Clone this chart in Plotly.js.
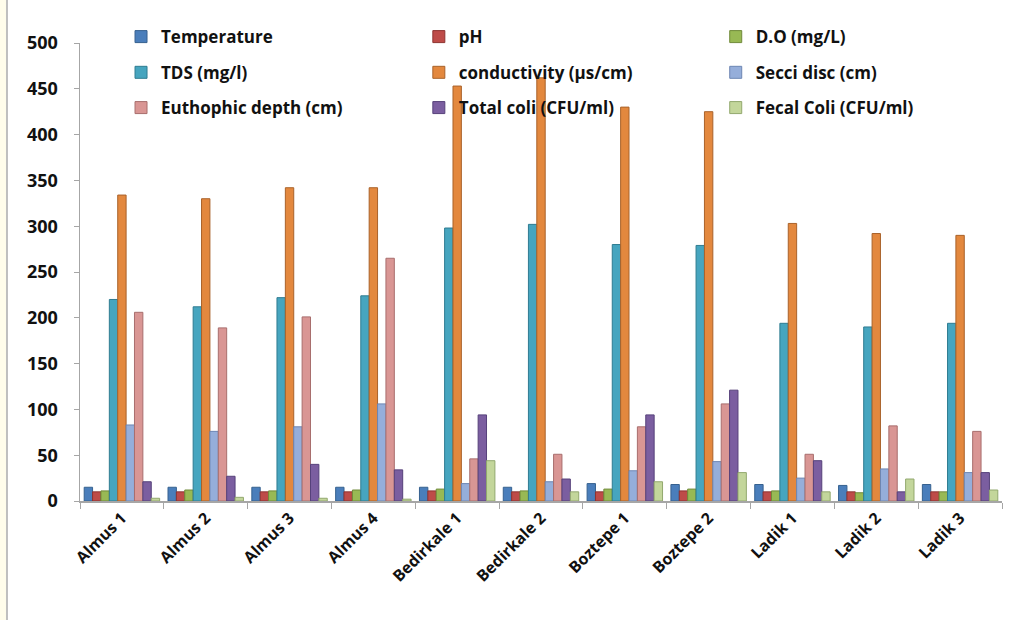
<!DOCTYPE html>
<html>
<head>
<meta charset="utf-8">
<script src="https://cdn.plot.ly/plotly-3.0.1.min.js"></script>
<style>
  html, body { margin: 0; padding: 0; background: #ffffff; }
  #chart { width: 1015px; height: 620px; }
</style>
</head>
<body>
<div id="chart"></div>
<script>
// Sampling stations
const stations = ["Almus 1", "Almus 2", "Almus 3", "Almus 4", "Bedirkale 1", "Bedirkale 2",
                  "Boztepe 1", "Boztepe 2", "Ladik 1", "Ladik 2", "Ladik 3"];

// Measured parameters per station
const temperature  = [15, 15, 15, 15, 15, 15, 19, 18, 18, 17, 18];
const ph           = [10, 10, 10, 10, 11, 10, 10, 11, 10, 10, 10];
const dissolvedO2  = [11, 12, 11, 12, 13, 11, 13, 13, 11, 9, 10];
const tds          = [220, 212, 222, 224, 298, 302, 280, 279, 194, 190, 194];
const conductivity = [334, 330, 342, 342, 453, 462, 430, 425, 303, 292, 290];
const secchiDisc   = [83, 76, 81, 106, 19, 21, 33, 43, 25, 35, 31];
const euphoticDepth= [206, 189, 201, 265, 46, 51, 81, 106, 51, 82, 76];
const totalColi    = [21, 27, 40, 34, 94, 24, 94, 121, 44, 10, 31];
const fecalColi    = [3, 4, 3, 2, 44, 10, 21, 31, 10, 24, 12];

const seriesNames = ["Temperature", "pH", "D.O (mg/L)", "TDS (mg/l)", "conductivity (µs/cm)",
                     "Secci disc (cm)", "Euthophic depth (cm)", "Total coli (CFU/ml)", "Fecal Coli (CFU/ml)"];
const seriesValues = [temperature, ph, dissolvedO2, tds, conductivity,
                      secchiDisc, euphoticDepth, totalColi, fecalColi];
const seriesColors = ["#4A7EBB", "#BE4B48", "#98B954", "#46A5BF", "#E3883E",
                      "#95AEDA", "#D99694", "#7B5EA0", "#C3D69B"];
const edgeColors   = ["#36618F", "#8E3331", "#708A3A", "#2F7C91", "#A9622A",
                      "#6D86B3", "#A86E6D", "#56417A", "#92A86E"];

// Legend grid: 3 columns x 3 rows, one legend box per series
const legendCols = [0.0445, 0.3675, 0.6895];
const legendRows = [1.013, 0.935, 0.858];

const font = "'Open Sans', Lato, 'DejaVu Sans', sans-serif";

const traces = seriesNames.map((name, i) => ({
  type: "bar",
  name: name,
  x: stations,
  y: seriesValues[i],
  legend: i === 0 ? "legend" : "legend" + (i + 1),
  marker: { color: seriesColors[i], line: { color: edgeColors[i], width: 1 } },
  hoverinfo: "x+y+name"
}));

const layout = {
  width: 1015,
  height: 620,
  margin: { l: 80, r: 13, t: 43, b: 119, autoexpand: false },
  paper_bgcolor: "#ffffff",
  plot_bgcolor: "#ffffff",
  barmode: "group",
  bargap: 0.1,
  bargroupgap: 0,
  showlegend: true,
  xaxis: {
    type: "category",
    showline: true,
    linecolor: "#A6A6A6",
    linewidth: 1.5,
    ticks: "outside",
    tickson: "boundaries",
    ticklen: 6,
    tickcolor: "#A6A6A6",
    tickangle: -45,
    showgrid: false,
    zeroline: false,
    tickfont: { family: font, size: 16, color: "#111111", weight: "bold" }
  },
  yaxis: {
    range: [0, 500],
    dtick: 50,
    showline: true,
    linecolor: "#A6A6A6",
    linewidth: 1.5,
    ticks: "outside",
    ticklen: 5,
    tickcolor: "#A6A6A6",
    ticklabelstandoff: 12,
    showgrid: false,
    zeroline: false,
    tickfont: { family: font, size: 18, color: "#111111", weight: "bold" }
  },
  shapes: [
    // thin frame strip along the left edge
    { type: "rect", xref: "paper", yref: "paper", x0: -0.0868, x1: -0.0792, y0: -0.26, y1: 1.094,
      fillcolor: "#FFFDEB", line: { width: 0 }, layer: "below" },
    { type: "line", xref: "paper", yref: "paper", x0: -0.0792, x1: -0.0792, y0: -0.26, y1: 1.094,
      line: { color: "#BFBFBF", width: 2 } }
  ]
};

seriesNames.forEach((name, i) => {
  const key = i === 0 ? "legend" : "legend" + (i + 1);
  layout[key] = {
    orientation: "h",
    x: legendCols[i % 3],
    y: legendRows[Math.floor(i / 3)],
    xanchor: "left",
    yanchor: "middle",
    bgcolor: "rgba(0,0,0,0)",
    font: { family: font, size: 17, color: "#111111", weight: "bold" }
  };
});

Plotly.newPlot("chart", traces, layout, { displayModeBar: false, staticPlot: true });
</script>
</body>
</html>
